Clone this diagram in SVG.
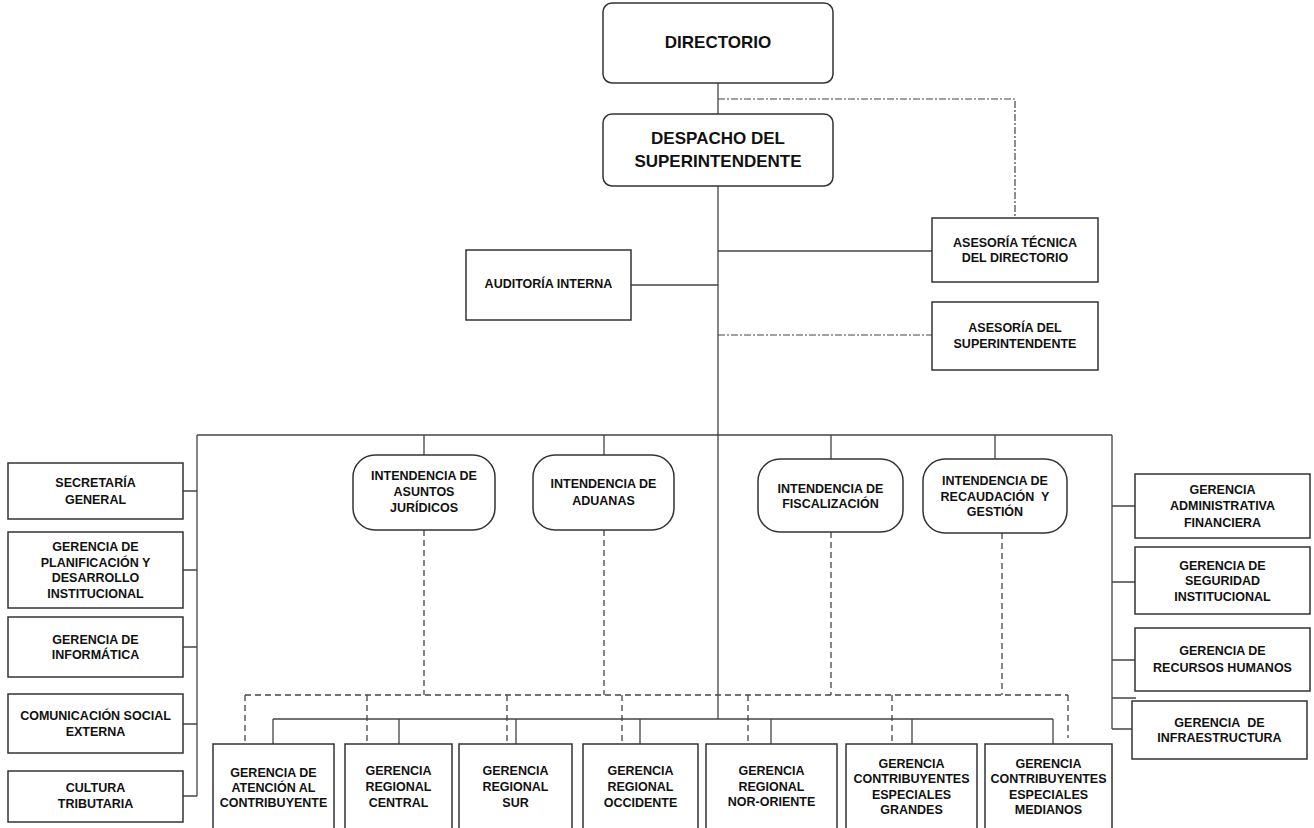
<svg xmlns="http://www.w3.org/2000/svg" width="1314" height="828" viewBox="0 0 1314 828">
<style>
.box{fill:#fff;stroke:#333;stroke-width:1.5}
.t{font-family:"Liberation Sans",Arial,sans-serif;font-weight:bold;font-size:12.5px;fill:#111;text-anchor:middle}
.big{font-size:17px}
.s{fill:none;stroke:#444;stroke-width:1.3}
.d{fill:none;stroke:#444;stroke-width:1.3;stroke-dasharray:6,4}
.dd{fill:none;stroke:#444;stroke-width:1.2;stroke-dasharray:7,2,2,2}
</style>
<rect width="1314" height="828" fill="#fff"/>
<g id="connectors">
<path class="s" d="M718,83V114M718,186V719M631,285H718M718,251H932"/>
<path class="dd" d="M718,99H1015V218M718,335H932"/>
<path class="s" d="M197,435H1112M197,435V796M183,491H197M183,570H197M183,647H197M183,724H197M183,796H197"/>
<path class="s" d="M1112,435V729M1112,506H1135M1112,582H1135M1112,660H1135M1112,698H1136M1112,729H1132"/>
<path class="s" d="M424,435V455M604,435V455M831,435V459M995,435V459"/>
<path class="s" d="M273,719H1053M273,719V744M399,719V744M516,719V744M640,719V744M771,719V744M912,719V744M1053,719V744"/>
<path class="d" d="M424,530V695M604,530V695M831,532V695M1002,533V695M245,695H1068M245,695V744M367,695V744M507,695V744M622,695V744M748,695V744M892,695V744M1068,695V738"/>
</g>
<g id="directorio"><rect class="box" x="603" y="3" width="230" height="80" rx="9"/><text class="t big" x="718" y="48">DIRECTORIO</text></g>
<g id="despacho"><rect class="box" x="603" y="114" width="230" height="72" rx="9"/><text class="t big" x="718" y="144">DESPACHO DEL</text><text class="t big" x="718" y="167">SUPERINTENDENTE</text></g>
<g id="auditoria"><rect class="box" x="466" y="250" width="165" height="70"/><text class="t" x="548.5" y="288">AUDITORÍA INTERNA</text></g>
<g id="asesoria-tecnica"><rect class="box" x="932" y="218" width="166" height="64"/><text class="t" x="1015" y="246.5">ASESORÍA TÉCNICA</text><text class="t" x="1015" y="261.5">DEL DIRECTORIO</text></g>
<g id="asesoria-sup"><rect class="box" x="932" y="302" width="166" height="68"/><text class="t" x="1015" y="331.5">ASESORÍA DEL</text><text class="t" x="1015" y="347.5">SUPERINTENDENTE</text></g>
<g id="secretaria"><rect class="box" x="8" y="463" width="175" height="56"/><text class="t" x="95.5" y="486.5">SECRETARÍA</text><text class="t" x="95.5" y="503.5">GENERAL</text></g>
<g id="planificacion"><rect class="box" x="8" y="532" width="175" height="76"/><text class="t" x="95.5" y="550.5">GERENCIA DE</text><text class="t" x="95.5" y="566.5">PLANIFICACIÓN Y</text><text class="t" x="95.5" y="581.5">DESARROLLO</text><text class="t" x="95.5" y="597.5">INSTITUCIONAL</text></g>
<g id="informatica"><rect class="box" x="8" y="617" width="175" height="60"/><text class="t" x="95.5" y="643.5">GERENCIA DE</text><text class="t" x="95.5" y="658.5">INFORMÁTICA</text></g>
<g id="comunicacion"><rect class="box" x="8" y="694" width="175" height="59"/><text class="t" x="95.5" y="719.5">COMUNICACIÓN SOCIAL</text><text class="t" x="95.5" y="735.5">EXTERNA</text></g>
<g id="cultura"><rect class="box" x="8" y="771" width="175" height="51"/><text class="t" x="95.5" y="791.5">CULTURA</text><text class="t" x="95.5" y="807.5">TRIBUTARIA</text></g>
<g id="juridicos"><rect class="box" x="353" y="455" width="142" height="75" rx="22"/><text class="t" x="424" y="479.5">INTENDENCIA DE</text><text class="t" x="424" y="495.5">ASUNTOS</text><text class="t" x="424" y="511.5">JURÍDICOS</text></g>
<g id="aduanas"><rect class="box" x="533" y="455" width="141" height="75" rx="22"/><text class="t" x="603.5" y="488">INTENDENCIA DE</text><text class="t" x="603.5" y="505">ADUANAS</text></g>
<g id="fiscalizacion"><rect class="box" x="758" y="459" width="145" height="73" rx="22"/><text class="t" x="830.5" y="492.5">INTENDENCIA DE</text><text class="t" x="830.5" y="507.5">FISCALIZACIÓN</text></g>
<g id="recaudacion"><rect class="box" x="923" y="459" width="144" height="74" rx="22"/><text class="t" x="995" y="484.5">INTENDENCIA DE</text><text class="t" x="995" y="500.5">RECAUDACIÓN&#160; Y</text><text class="t" x="995" y="515.5">GESTIÓN</text></g>
<g id="administrativa"><rect class="box" x="1135" y="474" width="175" height="64"/><text class="t" x="1222.5" y="493.5">GERENCIA</text><text class="t" x="1222.5" y="509.5">ADMINISTRATIVA</text><text class="t" x="1222.5" y="526.5">FINANCIERA</text></g>
<g id="seguridad"><rect class="box" x="1135" y="547" width="175" height="67"/><text class="t" x="1222.5" y="569.5">GERENCIA DE</text><text class="t" x="1222.5" y="584.5">SEGURIDAD</text><text class="t" x="1222.5" y="600.5">INSTITUCIONAL</text></g>
<g id="rrhh"><rect class="box" x="1135" y="628" width="175" height="63"/><text class="t" x="1222.5" y="654.5">GERENCIA DE</text><text class="t" x="1222.5" y="671.5">RECURSOS HUMANOS</text></g>
<g id="infraestructura"><rect class="box" x="1132" y="701" width="175" height="58"/><text class="t" x="1219.5" y="726.5">GERENCIA&#160; DE</text><text class="t" x="1219.5" y="741.5">INFRAESTRUCTURA</text></g>
<g id="atencion"><rect class="box" x="213" y="744" width="121" height="110"/><text class="t" x="273.5" y="776.5">GERENCIA DE</text><text class="t" x="273.5" y="791.5">ATENCIÓN AL</text><text class="t" x="273.5" y="806.5">CONTRIBUYENTE</text></g>
<g id="central"><rect class="box" x="345" y="744" width="107" height="110"/><text class="t" x="398.5" y="774.5">GERENCIA</text><text class="t" x="398.5" y="790.5">REGIONAL</text><text class="t" x="398.5" y="806.5">CENTRAL</text></g>
<g id="sur"><rect class="box" x="459" y="744" width="113" height="110"/><text class="t" x="515.5" y="774.5">GERENCIA</text><text class="t" x="515.5" y="790.5">REGIONAL</text><text class="t" x="515.5" y="806.5">SUR</text></g>
<g id="occidente"><rect class="box" x="583" y="744" width="115" height="110"/><text class="t" x="640.5" y="774.5">GERENCIA</text><text class="t" x="640.5" y="790.5">REGIONAL</text><text class="t" x="640.5" y="806.5">OCCIDENTE</text></g>
<g id="nor-oriente"><rect class="box" x="706" y="744" width="131" height="110"/><text class="t" x="771.5" y="774.5">GERENCIA</text><text class="t" x="771.5" y="790.5">REGIONAL</text><text class="t" x="771.5" y="805.5">NOR-ORIENTE</text></g>
<g id="grandes"><rect class="box" x="846" y="744" width="131" height="110"/><text class="t" x="911.5" y="767.5">GERENCIA</text><text class="t" x="911.5" y="782.5">CONTRIBUYENTES</text><text class="t" x="911.5" y="798.5">ESPECIALES</text><text class="t" x="911.5" y="813.5">GRANDES</text></g>
<g id="medianos"><rect class="box" x="985" y="744" width="127" height="110"/><text class="t" x="1048.5" y="767.5">GERENCIA</text><text class="t" x="1048.5" y="782.5">CONTRIBUYENTES</text><text class="t" x="1048.5" y="798.5">ESPECIALES</text><text class="t" x="1048.5" y="813.5">MEDIANOS</text></g>
</svg>
